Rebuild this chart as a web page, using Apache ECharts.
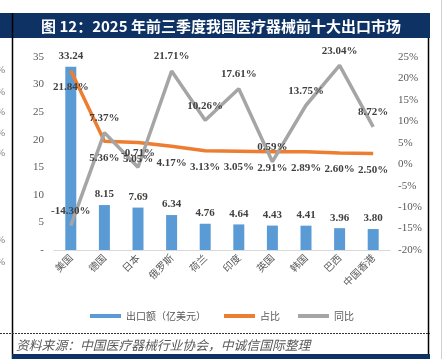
<!DOCTYPE html>
<html><head><meta charset="utf-8">
<script src="https://cdn.jsdelivr.net/npm/echarts@6/dist/echarts.min.js"></script>
<style>html,body{margin:0;padding:0;background:#fff}#c{width:444px;height:359px}</style>
</head><body><div id="c"></div>
<script>
const categories = ['美国','德国','日本','俄罗斯','荷兰','印度','英国','韩国','巴西','中国香港'];
const exportValues = [33.24,8.15,7.69,6.34,4.76,4.64,4.43,4.41,3.96,3.80];
const shareValues = [21.84,5.36,5.05,4.17,3.13,3.05,2.91,2.89,2.60,2.50];
const yoyValues = [-14.30,7.37,-0.71,21.71,10.26,17.61,0.59,13.75,23.04,8.72];
const leftTicks = [0,5,10,15,20,25,30,35];
const rightTicks = [-20,-15,-10,-5,0,5,10,15,20,25];
const titleText = '图 12：2025 年前三季度我国医疗器械前十大出口市场';
const sourceText = '资料来源：中国医疗器械行业协会，中诚信国际整理';
const seriesNames = ['出口额（亿美元）','占比','同比'];

const serif = '"Liberation Serif", "Noto Sans CJK SC", serif';
const cjk = '"Noto Sans CJK SC", sans-serif';
const labelStyle = {fontFamily: serif, fontSize: 11, fontWeight: 'bold', color: '#404040'};
const chart = echarts.init(document.getElementById('c'), null, {renderer: 'canvas'});

const sideMarks = [70, 92, 112, 133, 153, 240, 262].map(y => ({
  type: 'text', x: 5, y: y,
  style: {text: '0%', fill: '#777', font: '10px ' + serif, textAlign: 'right', textVerticalAlign: 'middle'}
}));

chart.setOption({
  animation: false,
  backgroundColor: '#fff',
  graphic: [
    {type: 'rect', shape: {x: 0, y: 13, width: 430, height: 25}, style: {fill: '#0d3263'}},
    {type: 'text', x: 221, y: 26, style: {text: titleText, fill: '#fff', font: 'bold 15px ' + cjk, textAlign: 'center', textVerticalAlign: 'middle'}},
    {type: 'line', shape: {x1: 12.5, y1: 13, x2: 12.5, y2: 359}, style: {stroke: '#000', lineWidth: 1.5}},
    {type: 'line', shape: {x1: 428.5, y1: 38, x2: 428.5, y2: 355}, style: {stroke: '#000', lineWidth: 1.5}},
    {type: 'line', shape: {x1: 441.5, y1: 0, x2: 441.5, y2: 359}, style: {stroke: '#d0d0d0', lineWidth: 1}},
    {type: 'line', shape: {x1: 0, y1: 333.5, x2: 430, y2: 333.5}, style: {stroke: '#333', lineWidth: 1, lineDash: [2, 1]}},
    {type: 'text', x: 16, y: 345, style: {text: sourceText, fill: '#595959', font: 'italic 12.8px ' + cjk, textVerticalAlign: 'middle'}},
    {type: 'rect', shape: {x: 12, y: 354, width: 418, height: 5}, style: {fill: '#0d3263'}},
    ...sideMarks
  ],
  legend: {
    data: seriesNames,
    left: 'center', top: 306,
    icon: 'rect', itemWidth: 31, itemHeight: 4, itemGap: 18,
    textStyle: {fontFamily: cjk, fontSize: 10, color: '#595959'}
  },
  grid: {left: 54, right: 54, top: 57, bottom: 109, containLabel: false},
  xAxis: {
    type: 'category', data: categories,
    axisLine: {lineStyle: {color: '#d9d9d9', width: 1}},
    axisTick: {show: false},
    axisLabel: {rotate: 45, fontFamily: cjk, fontSize: 10, color: '#595959', margin: 6}
  },
  yAxis: [
    {type: 'value', min: leftTicks[0], max: leftTicks[leftTicks.length - 1], interval: 5,
     splitLine: {show: false}, axisLine: {show: false}, axisTick: {show: false},
     axisLabel: {fontFamily: serif, fontSize: 11, color: '#595959', margin: 10,
       formatter: v => v === 0 ? '-' : String(v)}},
    {type: 'value', min: rightTicks[0], max: rightTicks[rightTicks.length - 1], interval: 5,
     splitLine: {show: false}, axisLine: {show: false}, axisTick: {show: false},
     axisLabel: {fontFamily: serif, fontSize: 11, color: '#595959', margin: 8,
       formatter: v => v + '%'}}
  ],
  series: [
    {name: seriesNames[0], type: 'bar', data: exportValues, barWidth: 11, yAxisIndex: 0,
     itemStyle: {color: '#5b9bd5'},
     label: {show: true, position: 'top', distance: 5, formatter: p => p.value.toFixed(2), ...labelStyle}},
    {name: seriesNames[1], type: 'line', data: shareValues, yAxisIndex: 1,
     symbol: 'circle', symbolSize: 0.01, showSymbol: true,
     lineStyle: {color: '#ed7d31', width: 3.5}, itemStyle: {color: '#ed7d31'},
     label: {show: true, position: 'bottom', distance: 11, formatter: p => p.value.toFixed(2) + '%', ...labelStyle}},
    {name: seriesNames[2], type: 'line', data: yoyValues, yAxisIndex: 1,
     symbol: 'circle', symbolSize: 0.01, showSymbol: true,
     lineStyle: {color: '#a5a5a5', width: 3.5}, itemStyle: {color: '#a5a5a5'},
     label: {show: true, position: 'top', distance: 9, formatter: p => p.value.toFixed(2) + '%', ...labelStyle}}
  ]
});
</script></body></html>
